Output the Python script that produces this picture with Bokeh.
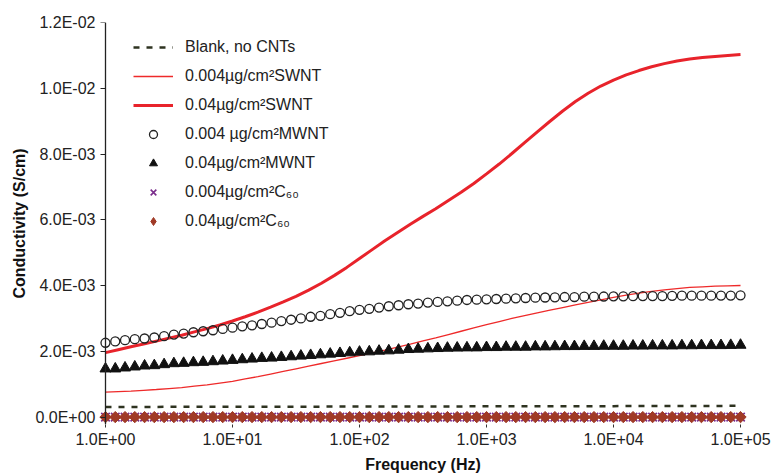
import math
from bokeh.plotting import figure
from bokeh.models import FixedTicker, Legend, LegendItem, Range1d, LinearAxis
from bokeh.embed import file_html
from bokeh.resources import INLINE

# ---- data ----
line_freq = [1.0, 1.259, 1.585, 1.995, 2.512, 3.162, 3.981, 5.012, 6.310, 7.943,
             10.0, 12.59, 15.85, 19.95, 25.12, 31.62, 39.81, 50.12, 63.10, 79.43,
             100.0, 125.9, 158.5, 199.5, 251.2, 316.2, 398.1, 501.2, 631.0, 794.3,
             1000.0, 1259.0, 1585.0, 1995.0, 2512.0, 3162.0, 3981.0, 5012.0, 6310.0, 7943.0,
             10000.0, 12590.0, 15850.0, 19950.0, 25120.0, 31620.0, 39810.0, 50120.0, 63100.0, 79430.0,
             100000.0]

blank = [3.20e-4, 3.21e-4, 3.21e-4, 3.22e-4, 3.22e-4, 3.23e-4, 3.24e-4, 3.24e-4, 3.25e-4, 3.25e-4,
         3.26e-4, 3.27e-4, 3.27e-4, 3.28e-4, 3.28e-4, 3.29e-4, 3.30e-4, 3.30e-4, 3.31e-4, 3.31e-4,
         3.32e-4, 3.33e-4, 3.33e-4, 3.34e-4, 3.34e-4, 3.35e-4, 3.36e-4, 3.36e-4, 3.37e-4, 3.38e-4,
         3.38e-4, 3.39e-4, 3.40e-4, 3.40e-4, 3.41e-4, 3.42e-4, 3.42e-4, 3.43e-4, 3.44e-4, 3.44e-4,
         3.45e-4, 3.46e-4, 3.46e-4, 3.47e-4, 3.48e-4, 3.49e-4, 3.50e-4, 3.51e-4, 3.52e-4, 3.53e-4,
         3.55e-4]

swnt_004 = [0.77e-3, 0.785e-3, 0.80e-3, 0.825e-3, 0.85e-3, 0.88e-3, 0.91e-3, 0.95e-3, 0.99e-3, 1.045e-3,
            1.10e-3, 1.17e-3, 1.24e-3, 1.32e-3, 1.40e-3, 1.48e-3, 1.56e-3, 1.64e-3, 1.72e-3, 1.80e-3,
            1.88e-3, 1.965e-3, 2.05e-3, 2.14e-3, 2.23e-3, 2.325e-3, 2.42e-3, 2.52e-3, 2.62e-3, 2.72e-3,
            2.82e-3, 2.915e-3, 3.01e-3, 3.095e-3, 3.18e-3, 3.26e-3, 3.34e-3, 3.42e-3, 3.50e-3, 3.575e-3,
            3.65e-3, 3.715e-3, 3.78e-3, 3.83e-3, 3.88e-3, 3.915e-3, 3.95e-3, 3.97e-3, 3.99e-3, 4.00e-3,
            4.01e-3]

swnt_04 = [1.97e-3, 2.06e-3, 2.15e-3, 2.23e-3, 2.32e-3, 2.41e-3, 2.50e-3, 2.60e-3, 2.70e-3, 2.81e-3,
           2.93e-3, 3.06e-3, 3.20e-3, 3.35e-3, 3.51e-3, 3.68e-3, 3.87e-3, 4.08e-3, 4.31e-3, 4.56e-3,
           4.83e-3, 5.10e-3, 5.37e-3, 5.62e-3, 5.87e-3, 6.11e-3, 6.34e-3, 6.59e-3, 6.84e-3, 7.11e-3,
           7.40e-3, 7.70e-3, 8.02e-3, 8.35e-3, 8.68e-3, 9.00e-3, 9.31e-3, 9.60e-3, 9.85e-3, 10.07e-3,
           10.25e-3, 10.41e-3, 10.54e-3, 10.655e-3, 10.75e-3, 10.83e-3, 10.89e-3, 10.935e-3, 10.97e-3, 11.00e-3,
           11.03e-3]

freq = [1.0, 1.194, 1.425, 1.701, 2.031, 2.424, 2.894, 3.455, 4.125, 4.924, 5.878, 7.017, 8.377,
        10.0, 11.94, 14.25, 17.01, 20.31, 24.24, 28.94, 34.55, 41.25, 49.24, 58.78, 70.17, 83.77,
        100.0, 119.4, 142.5, 170.1, 203.1, 242.4, 289.4, 345.5, 412.5, 492.4, 587.8, 701.7, 837.7,
        1000.0, 1194.0, 1425.0, 1701.0, 2031.0, 2424.0, 2894.0, 3455.0, 4125.0, 4924.0, 5878.0, 7017.0, 8377.0,
        10000.0, 11940.0, 14250.0, 17010.0, 20310.0, 24240.0, 28940.0, 34550.0, 41250.0, 49240.0, 58780.0, 70170.0, 83770.0,
        100000.0]

mwnt_004 = [2.27e-3, 2.31e-3, 2.35e-3, 2.38e-3, 2.40e-3, 2.43e-3, 2.47e-3, 2.52e-3, 2.55e-3, 2.59e-3,
            2.62e-3, 2.65e-3, 2.69e-3, 2.73e-3, 2.77e-3, 2.80e-3, 2.84e-3, 2.88e-3, 2.93e-3, 2.97e-3,
            3.01e-3, 3.06e-3, 3.09e-3, 3.14e-3, 3.18e-3, 3.23e-3, 3.27e-3, 3.30e-3, 3.34e-3, 3.38e-3,
            3.41e-3, 3.44e-3, 3.46e-3, 3.49e-3, 3.51e-3, 3.53e-3, 3.55e-3, 3.57e-3, 3.58e-3, 3.59e-3,
            3.60e-3, 3.61e-3, 3.62e-3, 3.63e-3, 3.64e-3, 3.645e-3, 3.65e-3, 3.66e-3, 3.66e-3, 3.67e-3,
            3.67e-3, 3.675e-3, 3.68e-3, 3.68e-3, 3.685e-3, 3.69e-3, 3.69e-3, 3.69e-3, 3.695e-3, 3.70e-3,
            3.70e-3, 3.70e-3, 3.70e-3, 3.705e-3, 3.705e-3, 3.71e-3]

mwnt_04 = [1.48e-3, 1.48e-3, 1.51e-3, 1.54e-3, 1.57e-3, 1.58e-3, 1.61e-3, 1.64e-3, 1.65e-3, 1.67e-3,
           1.68e-3, 1.70e-3, 1.72e-3, 1.74e-3, 1.76e-3, 1.78e-3, 1.80e-3, 1.81e-3, 1.83e-3, 1.85e-3,
           1.87e-3, 1.89e-3, 1.91e-3, 1.93e-3, 1.95e-3, 1.97e-3, 1.99e-3, 2.00e-3, 2.02e-3, 2.03e-3,
           2.05e-3, 2.07e-3, 2.08e-3, 2.09e-3, 2.10e-3, 2.11e-3, 2.115e-3, 2.12e-3, 2.12e-3, 2.13e-3,
           2.13e-3, 2.14e-3, 2.14e-3, 2.14e-3, 2.15e-3, 2.15e-3, 2.155e-3, 2.16e-3, 2.16e-3, 2.165e-3,
           2.165e-3, 2.17e-3, 2.17e-3, 2.17e-3, 2.175e-3, 2.175e-3, 2.18e-3, 2.18e-3, 2.18e-3, 2.185e-3,
           2.185e-3, 2.19e-3, 2.19e-3, 2.19e-3, 2.195e-3, 2.20e-3]

c60_004 = [1.0e-5, 1.0e-5, 1.0e-5, 1.0e-5, 1.0e-5, 1.0e-5, 1.0e-5, 1.0e-5, 1.0e-5, 1.0e-5,
           1.0e-5, 1.0e-5, 1.0e-5, 1.0e-5, 1.0e-5, 1.0e-5, 1.0e-5, 1.0e-5, 1.0e-5, 1.0e-5,
           1.0e-5, 1.0e-5, 1.0e-5, 1.0e-5, 1.0e-5, 1.0e-5, 1.0e-5, 1.0e-5, 1.0e-5, 1.0e-5,
           1.0e-5, 1.0e-5, 1.0e-5, 1.0e-5, 1.0e-5, 1.0e-5, 1.0e-5, 1.0e-5, 1.0e-5, 1.0e-5,
           1.0e-5, 1.0e-5, 1.0e-5, 1.0e-5, 1.0e-5, 1.0e-5, 1.0e-5, 1.0e-5, 1.0e-5, 1.0e-5,
           1.0e-5, 1.0e-5, 1.0e-5, 1.0e-5, 1.0e-5, 1.0e-5, 1.0e-5, 1.0e-5, 1.0e-5, 1.0e-5,
           1.0e-5, 1.0e-5, 1.0e-5, 1.0e-5, 1.0e-5, 1.0e-5]

c60_04 = [1.2e-5, 1.2e-5, 1.2e-5, 1.2e-5, 1.2e-5, 1.2e-5, 1.2e-5, 1.2e-5, 1.2e-5, 1.2e-5,
          1.2e-5, 1.2e-5, 1.2e-5, 1.2e-5, 1.2e-5, 1.2e-5, 1.2e-5, 1.2e-5, 1.2e-5, 1.2e-5,
          1.2e-5, 1.2e-5, 1.2e-5, 1.2e-5, 1.2e-5, 1.2e-5, 1.2e-5, 1.2e-5, 1.2e-5, 1.2e-5,
          1.2e-5, 1.2e-5, 1.2e-5, 1.2e-5, 1.2e-5, 1.2e-5, 1.2e-5, 1.2e-5, 1.2e-5, 1.2e-5,
          1.2e-5, 1.2e-5, 1.2e-5, 1.2e-5, 1.2e-5, 1.2e-5, 1.2e-5, 1.2e-5, 1.2e-5, 1.2e-5,
          1.2e-5, 1.2e-5, 1.2e-5, 1.2e-5, 1.2e-5, 1.2e-5, 1.2e-5, 1.2e-5, 1.2e-5, 1.2e-5,
          1.2e-5, 1.2e-5, 1.2e-5, 1.2e-5, 1.2e-5, 1.2e-5]

x_ticks = [1.0, 10.0, 100.0, 1000.0, 10000.0, 100000.0]
x_tick_labels = ["1.0E+00", "1.0E+01", "1.0E+02", "1.0E+03", "1.0E+04", "1.0E+05"]
y_ticks = [0.0, 0.002, 0.004, 0.006, 0.008, 0.010, 0.012]
y_tick_labels = ["0.0E+00", "2.0E-03", "4.0E-03", "6.0E-03", "8.0E-03", "1.0E-02", "1.2E-02"]

series_labels = ["Blank, no CNTs",
                 "0.004\u00b5g/cm\u00b2SWNT",
                 "0.04\u00b5g/cm\u00b2SWNT",
                 "0.004 \u00b5g/cm\u00b2MWNT",
                 "0.04\u00b5g/cm\u00b2MWNT",
                 "0.004\u00b5g/cm\u00b2C\u2086\u2080",
                 "0.04\u00b5g/cm\u00b2C\u2086\u2080"]

FONT = "Liberation Sans"
C60_PURPLE = "#7a2d8c"
C60_BROWN = "#a03a26"

p = figure(width=773, height=476, x_axis_type="log", output_backend="svg",
           toolbar_location=None,
           x_range=Range1d(0.881, 113500.0), y_range=Range1d(-0.000213, 0.012),
           min_border_left=98, min_border_right=26, min_border_top=22, min_border_bottom=52)
p.outline_line_color = None
p.xgrid.visible = False
p.ygrid.visible = False
p.background_fill_color = "white"
p.border_fill_color = "white"

r_blank = p.line(line_freq, blank, line_color="#2e3320", line_width=2.5, line_dash="6 7")
r_thin = p.line(line_freq, swnt_004, line_color="#ee2a2a", line_width=1.3)
r_thick = p.line(line_freq, swnt_04, line_color="#e8232b", line_width=3)
r_circ = p.scatter(freq, mwnt_004, marker="circle", size=9, fill_color=None,
                   line_color="#222222", line_width=1.3)
r_tri = p.scatter(freq, mwnt_04, marker="triangle", size=11, fill_color="#111111",
                  line_color="#111111", line_width=1)
r_x = p.scatter(freq, c60_004, marker="x", size=12, line_color=C60_PURPLE, line_width=1.6)
r_dia = p.scatter(freq, c60_04, marker="square", angle=math.pi / 4, size=8,
                  fill_color=C60_BROWN, line_color=C60_BROWN, line_width=1)
# same series as an upright diamond, hidden in the plot, used only as the legend key
r_dia_key = p.scatter(freq, c60_04, marker="diamond", size=12,
                      fill_color=C60_BROWN, line_color=C60_BROWN, visible=False)

# x axis
xa = p.xaxis[0]
xa.ticker = FixedTicker(ticks=x_ticks, minor_ticks=[])
xa.major_label_overrides = dict(zip(x_ticks, x_tick_labels))
xa.axis_line_color = None
xa.major_tick_out = 3
xa.major_tick_in = 0
xa.major_tick_line_color = "#333333"
xa.minor_tick_line_color = None
xa.major_label_standoff = 3
xa.major_label_text_font = FONT
xa.major_label_text_font_size = "16px"
xa.major_label_text_color = "#222222"
xa.axis_label = "Frequency (Hz)"
xa.axis_label_text_font = FONT
xa.axis_label_text_font_size = "16px"
xa.axis_label_text_font_style = "bold"
xa.axis_label_text_color = "#111111"
xa.axis_label_standoff = 5

# y axis: labels and title at the frame's left edge
ya = p.yaxis[0]
ya.ticker = FixedTicker(ticks=y_ticks, minor_ticks=[])
ya.major_label_overrides = dict(zip(y_ticks, y_tick_labels))
ya.axis_line_color = None
ya.major_tick_out = 0
ya.major_tick_in = 0
ya.major_tick_line_color = None
ya.minor_tick_line_color = None
ya.major_label_standoff = 3
ya.major_label_text_font = FONT
ya.major_label_text_font_size = "16px"
ya.major_label_text_color = "#222222"
ya.axis_label = "Conductivity (S/cm)"
ya.axis_label_text_font = FONT
ya.axis_label_text_font_size = "16px"
ya.axis_label_text_font_style = "bold"
ya.axis_label_text_color = "#111111"
ya.axis_label_standoff = 4

# y axis rule and ticks drawn at x = 1 Hz
rule = LinearAxis(fixed_location=1.0, ticker=FixedTicker(ticks=y_ticks, minor_ticks=[]),
                  major_label_overrides={t: "" for t in y_ticks},
                  major_label_text_font_size="0px",
                  axis_line_color="#222222", axis_line_width=1.3,
                  major_tick_in=5, major_tick_out=0, major_tick_line_color="#222222",
                  minor_tick_line_color=None, major_label_standoff=0)
p.add_layout(rule, "right")

renderers = [r_blank, r_thin, r_thick, r_circ, r_tri, r_x, r_dia_key]
items = [LegendItem(label=lab, renderers=[r]) for lab, r in zip(series_labels, renderers)]
legend = Legend(items=items, location=(35, 193), padding=0, spacing=9,
                glyph_width=40, glyph_height=20, label_height=20, label_standoff=12,
                label_text_font=FONT, label_text_font_size="16px", label_text_color="#222222",
                border_line_color=None, background_fill_alpha=0,
                inactive_fill_alpha=0, click_policy="none")
p.add_layout(legend)

open("out.html", "w").write(file_html(p, INLINE))
